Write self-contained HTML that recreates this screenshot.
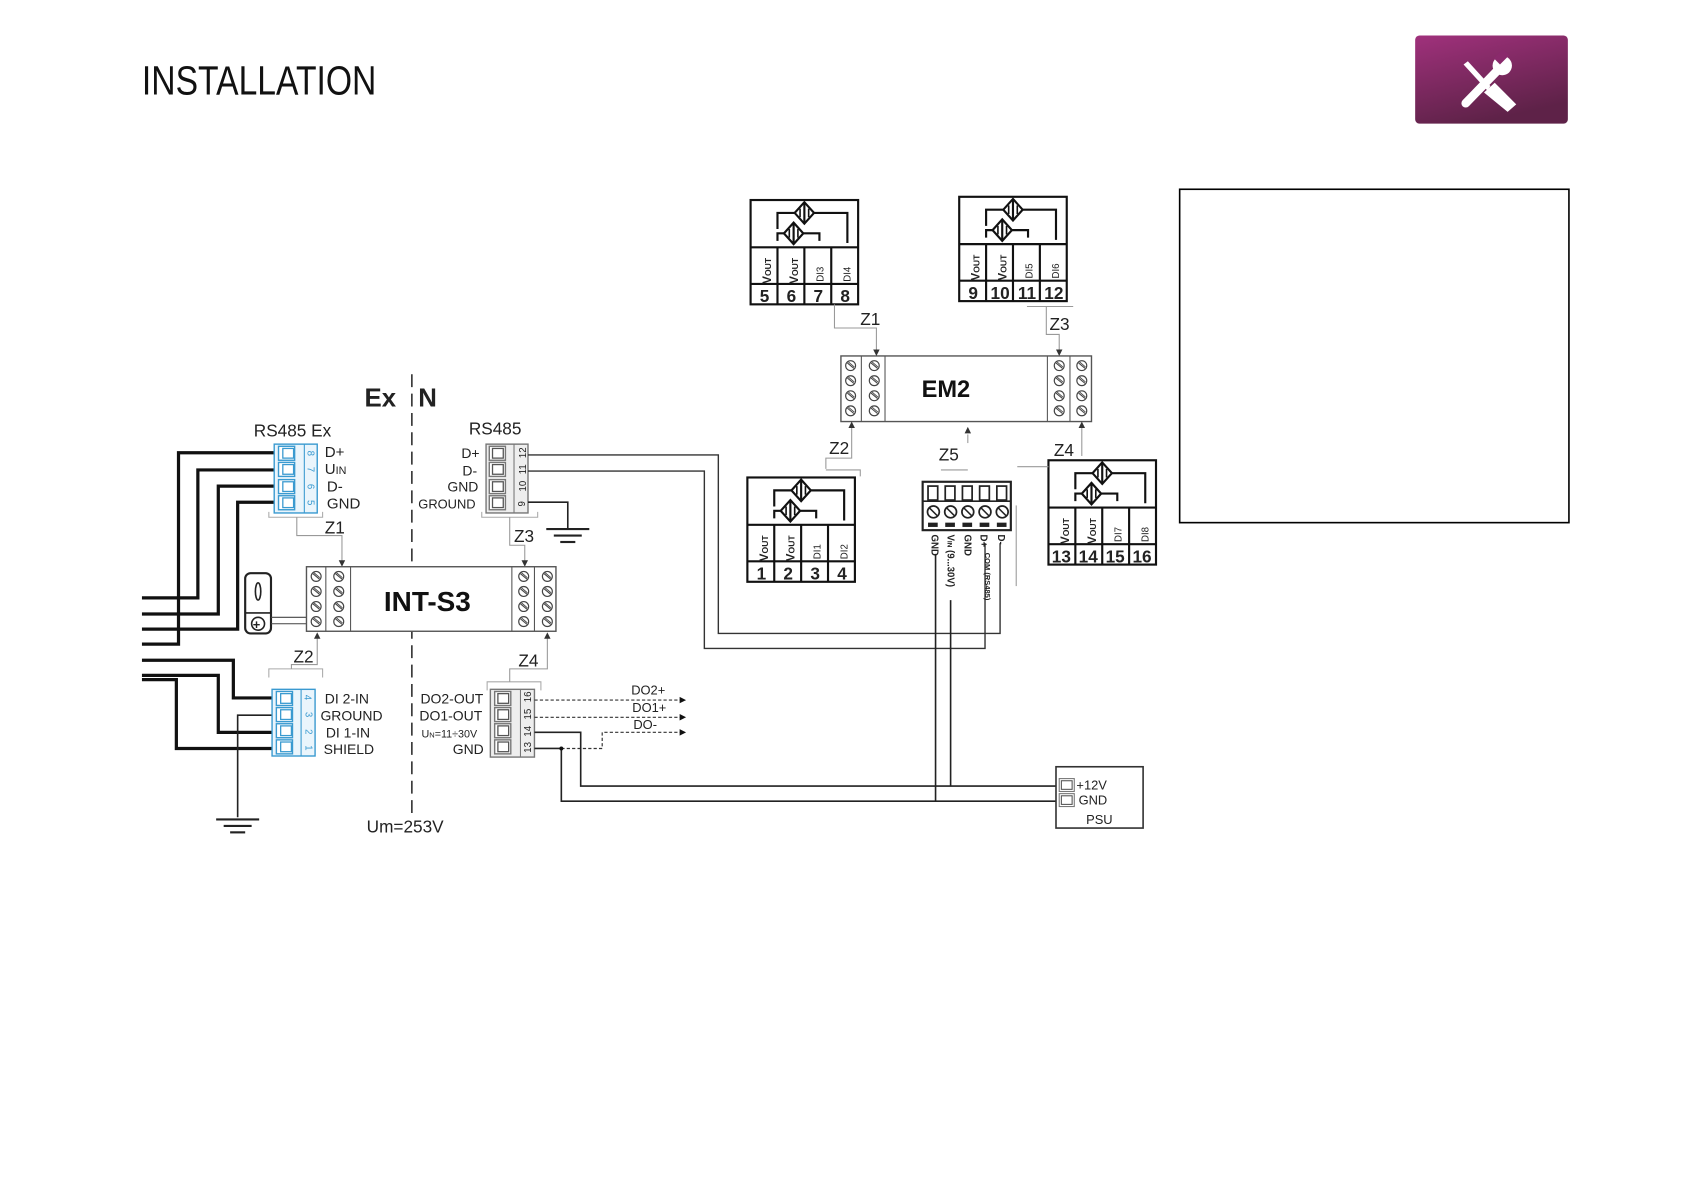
<!DOCTYPE html>
<html><head><meta charset="utf-8"><style>
html,body{margin:0;padding:0;background:#fff;width:1684px;height:1191px;overflow:hidden}
svg{display:block}
text{font-family:"Liberation Sans",sans-serif;fill:#222}
</style></head><body>
<svg width="1684" height="1191" viewBox="0 0 1566 1107.5" preserveAspectRatio="none" xmlns="http://www.w3.org/2000/svg">
<defs>
<linearGradient id="g" x1="0" y1="0" x2="0.4" y2="1"><stop offset="0" stop-color="#a0317c"/><stop offset="1" stop-color="#5e2248"/></linearGradient>
<g id="scr"><circle r="4.6" fill="#fff" stroke="#444" stroke-width="1.1"/><line x1="-3" y1="-2.5" x2="3" y2="2.5" stroke="#444" stroke-width="1"/><line x1="-2" y1="-3.4" x2="3.4" y2="1.2" stroke="#444" stroke-width=".8"/></g>
<g id="col4"><use href="#scr" y="0"/><use href="#scr" y="14"/><use href="#scr" y="28"/><use href="#scr" y="42"/></g>
<g id="dia"><polygon points="0,-10 9,0 0,10 -9,0" fill="#fff" stroke="#111" stroke-width="2"/><line x1="0" y1="-10" x2="0" y2="10" stroke="#111" stroke-width="2"/><line x1="-4" y1="-4" x2="-4" y2="4" stroke="#111" stroke-width="1.5"/><line x1="4" y1="-4" x2="4" y2="4" stroke="#111" stroke-width="1.5"/></g>
<g id="sens" fill="none" stroke="#111" stroke-width="2">
<rect x="0" y="0" width="100" height="97"/>
<polyline points="25,27 25,12 90,12 90,40"/>
<polyline points="25,38 25,31 64,31 64,38"/>
<use href="#dia" x="50" y="12"/><use href="#dia" x="40" y="31"/>
<line x1="0" y1="44" x2="100" y2="44"/><line x1="0" y1="78" x2="100" y2="78"/>
<line x1="25" y1="44" x2="25" y2="97"/><line x1="50" y1="44" x2="50" y2="97"/><line x1="75" y1="44" x2="75" y2="97"/>
</g>
<g id="bcell"><rect x="0" y="0" width="15" height="13" fill="#fff" stroke="#3a9ad0" stroke-width="1.3"/><rect x="4" y="2" width="10" height="9" fill="#fff" stroke="#3a9ad0" stroke-width="1.2"/></g>
<g id="gcell"><rect x="0" y="0" width="15" height="13" fill="#fff" stroke="#777" stroke-width="1.3"/><rect x="3" y="2" width="10" height="9" fill="#fff" stroke="#555" stroke-width="1.2"/></g>
<g id="gnd" stroke="#222" stroke-width="2"><line x1="-20" y1="0" x2="20" y2="0"/><line x1="-13" y1="6" x2="13" y2="6"/><line x1="-7" y1="12" x2="7" y2="12"/></g>
</defs>

<!-- title -->
<text x="132" y="88" font-size="38" textLength="218" lengthAdjust="spacingAndGlyphs" style="fill:#111">INSTALLATION</text>
<rect x="1316" y="33" width="142" height="82" rx="4" fill="url(#g)"/>
<g fill="#fff">
<polygon points="1361,60 1365,57 1386,80 1383,84"/>
<polygon points="1380,86 1390,77 1410,97 1402,104"/>
<line x1="1363" y1="96" x2="1394" y2="64" stroke="#fff" stroke-width="8" stroke-linecap="round"/>
<circle cx="1397" cy="61" r="9"/>
</g>
<rect x="1391" y="48" width="8" height="12" fill="#8a2a6c" transform="rotate(45 1397 55)"/>
<rect x="1097" y="176" width="362" height="310" fill="none" stroke="#000" stroke-width="1.5"/>

<!-- Ex/N divider -->
<line x1="383" y1="348" x2="383" y2="757" stroke="#333" stroke-width="1.5" stroke-dasharray="12,6"/>
<text x="339" y="378" font-size="24" font-weight="bold" style="fill:#222">Ex</text>
<text x="389" y="378" font-size="24" font-weight="bold" style="fill:#222">N</text>
<text x="341" y="774" font-size="16">Um=253V</text>

<!-- thick wires left -->
<g fill="none" stroke="#111" stroke-width="3">
<polyline points="258,421 166,421 166,599 132,599"/>
<polyline points="258,437 184,437 184,556 132,556"/>
<polyline points="258,452 203,452 203,571 132,571"/>
<polyline points="258,467 221,467 221,585 132,585"/>
<polyline points="256,649 217,649 217,614 132,614"/>
<polyline points="256,681 203,681 203,628 132,628"/>
<polyline points="256,696 164,696 164,632 132,632"/>
</g>
<polyline points="256,665 221,665 221,760" fill="none" stroke="#222" stroke-width="1.5"/>
<use href="#gnd" x="221" y="762"/>

<!-- RS485 Ex block -->
<text x="236" y="406" font-size="16">RS485 Ex</text>
<rect x="255" y="413" width="40" height="64" fill="#eaf5fc" stroke="#3a9ad0" stroke-width="1.3"/>
<line x1="283" y1="413" x2="283" y2="477" stroke="#3a9ad0"/>
<use href="#bcell" x="259" y="415"/><use href="#bcell" x="259" y="430"/><use href="#bcell" x="259" y="446"/><use href="#bcell" x="259" y="461"/>
<g font-size="9" style="fill:#3a9ad0"><text x="286" y="425" transform="rotate(90 289 422)" style="fill:#3a9ad0">8</text><text x="286" y="440" transform="rotate(90 289 437)" style="fill:#3a9ad0">7</text><text x="286" y="456" transform="rotate(90 289 453)" style="fill:#3a9ad0">6</text><text x="286" y="471" transform="rotate(90 289 468)" style="fill:#3a9ad0">5</text></g>
<g font-size="14"><text x="302" y="425">D+</text><text x="302" y="441">U<tspan font-size="10">IN</tspan></text><text x="304" y="457">D-</text><text x="304" y="473">GND</text></g>
<polyline points="250,476 250,481 300,481 300,476" fill="none" stroke="#aaa"/>
<polyline points="276,481 276,498 318,498 318,522" fill="none" stroke="#999"/>
<polygon points="315,521 321,521 318,527" fill="#333"/>
<text x="302" y="496" font-size="16">Z1</text>

<!-- RS485 block -->
<text x="436" y="404" font-size="16">RS485</text>
<rect x="452" y="413" width="39" height="64" fill="#eee" stroke="#777" stroke-width="1.3"/>
<line x1="478" y1="413" x2="478" y2="477" stroke="#777"/>
<use href="#gcell" x="455" y="415"/><use href="#gcell" x="455" y="430"/><use href="#gcell" x="455" y="446"/><use href="#gcell" x="455" y="461"/>
<g font-size="9"><text x="481" y="426" transform="rotate(-90 485 422)">12</text><text x="481" y="441" transform="rotate(-90 485 437)">11</text><text x="481" y="457" transform="rotate(-90 485 453)">10</text><text x="482" y="471" transform="rotate(-90 485 468)">9</text></g>
<g font-size="13"><text x="429" y="426">D+</text><text x="430" y="442">D-</text><text x="416" y="457">GND</text><text x="389" y="473" font-size="12">GROUND</text></g>
<polyline points="491,467 528,467 528,492" fill="none" stroke="#222" stroke-width="1.5"/>
<use href="#gnd" x="528" y="492"/>
<polyline points="448,476 448,481 500,481 500,476" fill="none" stroke="#aaa"/>
<polyline points="474,481 474,507 488,507 488,522" fill="none" stroke="#999"/>
<polygon points="485,521 491,521 488,527" fill="#333"/>
<text x="478" y="504" font-size="16">Z3</text>

<!-- RS485 wires to Z5 -->
<polyline points="491,423 668,423 668,589 930,589 930,505" fill="none" stroke="#333" stroke-width="1.3"/>
<polyline points="491,438 655,438 655,603 916,603 916,505" fill="none" stroke="#333" stroke-width="1.3"/>

<!-- cable gland -->
<rect x="228" y="533" width="24" height="56" rx="5" fill="#fff" stroke="#222" stroke-width="2"/>
<ellipse cx="240" cy="550" rx="2.5" ry="8" fill="none" stroke="#222" stroke-width="1.5"/>
<line x1="228" y1="570" x2="252" y2="570" stroke="#222" stroke-width="1.5"/>
<circle cx="240" cy="580" r="6" fill="none" stroke="#222" stroke-width="1.5"/>
<text x="235" y="585" font-size="12" font-weight="bold" style="fill:#222">+</text>
<line x1="252" y1="574" x2="285" y2="574" stroke="#444"/><line x1="252" y1="580" x2="285" y2="580" stroke="#444"/>

<!-- INT-S3 -->
<rect x="285" y="527" width="232" height="60" fill="#fff" stroke="#555" stroke-width="1.3"/>
<line x1="303" y1="527" x2="303" y2="587" stroke="#555"/><line x1="326" y1="527" x2="326" y2="587" stroke="#555"/>
<line x1="476" y1="527" x2="476" y2="587" stroke="#555"/><line x1="497" y1="527" x2="497" y2="587" stroke="#555"/>
<use href="#col4" x="294" y="536"/><use href="#col4" x="315" y="536"/><use href="#col4" x="487" y="536"/><use href="#col4" x="509" y="536"/>
<text x="357" y="568" font-size="26" font-weight="bold" style="fill:#111">INT-S3</text>

<!-- Z2 / Z4 arrows -->
<polyline points="250,630 250,622 300,622 300,630" fill="none" stroke="#aaa"/>
<polyline points="271,622 271,618 295,618 295,593" fill="none" stroke="#999"/>
<polygon points="292,594 298,594 295,588" fill="#333"/>
<text x="273" y="616" font-size="16">Z2</text>
<polyline points="453,642 453,634 503,634 503,642" fill="none" stroke="#aaa"/>
<polyline points="474,634 474,622 509,622 509,593" fill="none" stroke="#999"/>
<polygon points="506,594 512,594 509,588" fill="#333"/>
<text x="482" y="620" font-size="16">Z4</text>

<!-- DI block -->
<rect x="253" y="641" width="40" height="62" fill="#eaf5fc" stroke="#3a9ad0" stroke-width="1.3"/>
<line x1="280" y1="641" x2="280" y2="703" stroke="#3a9ad0"/>
<use href="#bcell" x="257" y="643"/><use href="#bcell" x="257" y="658"/><use href="#bcell" x="257" y="673"/><use href="#bcell" x="257" y="688"/>
<g font-size="9"><text x="284" y="653" transform="rotate(90 287 649)" style="fill:#3a9ad0">4</text><text x="284" y="668" transform="rotate(90 287 665)" style="fill:#3a9ad0">3</text><text x="284" y="684" transform="rotate(90 287 681)" style="fill:#3a9ad0">2</text><text x="284" y="699" transform="rotate(90 287 696)" style="fill:#3a9ad0">1</text></g>
<g font-size="13"><text x="302" y="654">DI 2-IN</text><text x="298" y="670">GROUND</text><text x="303" y="686">DI 1-IN</text><text x="301" y="701">SHIELD</text></g>

<!-- DO block -->
<rect x="456" y="641" width="41" height="63" fill="#eee" stroke="#777" stroke-width="1.3"/>
<line x1="484" y1="641" x2="484" y2="704" stroke="#777"/>
<use href="#gcell" x="460" y="643"/><use href="#gcell" x="460" y="658"/><use href="#gcell" x="460" y="673"/><use href="#gcell" x="460" y="688"/>
<g font-size="9"><text x="486" y="653" transform="rotate(-90 490 649)">16</text><text x="486" y="669" transform="rotate(-90 490 665)">15</text><text x="486" y="685" transform="rotate(-90 490 681)">14</text><text x="486" y="700" transform="rotate(-90 490 696)">13</text></g>
<g font-size="13"><text x="391" y="654">DO2-OUT</text><text x="390" y="670">DO1-OUT</text><text x="392" y="686" font-size="10">U<tspan font-size="7">N</tspan>=11÷30V</text><text x="421" y="701">GND</text></g>
<g fill="none" stroke="#333" stroke-width="1.1" stroke-dasharray="3,2">
<line x1="497" y1="651" x2="634" y2="651"/><line x1="497" y1="667" x2="634" y2="667"/>
<polyline points="522,696 560,696 560,681 634,681"/>
</g>
<g fill="#111"><polygon points="632,648 638,651 632,654"/><polygon points="632,664 638,667 632,670"/><polygon points="632,678 638,681 632,684"/></g>
<g font-size="12"><text x="587" y="646">DO2+</text><text x="588" y="662">DO1+</text><text x="589" y="678">DO-</text></g>
<g fill="none" stroke="#222" stroke-width="1.5">
<polyline points="497,681 540,681 540,731 985,731"/>
<polyline points="497,696 522,696 522,745 985,745"/>
<line x1="870" y1="515" x2="870" y2="745"/>
<line x1="884" y1="558" x2="884" y2="731"/>
</g>
<circle cx="522" cy="696" r="1.8" fill="#111"/>

<!-- PSU -->
<rect x="982" y="713" width="81" height="57" fill="#fff" stroke="#333" stroke-width="1.5"/>
<rect x="985" y="724" width="14" height="12" fill="#fff" stroke="#777"/><rect x="987" y="726" width="10" height="8" fill="#fff" stroke="#555"/>
<rect x="985" y="738" width="14" height="12" fill="#fff" stroke="#777"/><rect x="987" y="740" width="10" height="8" fill="#fff" stroke="#555"/>
<g font-size="12"><text x="1001" y="734">+12V</text><text x="1003" y="748">GND</text><text x="1010" y="766">PSU</text></g>

<!-- Sensors -->
<use href="#sens" x="698" y="186"/>
<use href="#sens" x="892" y="183"/>
<use href="#sens" x="695" y="444"/>
<use href="#sens" x="975" y="428"/>
<g font-weight="bold">
<g font-size="11">
<text transform="translate(717,264) rotate(-90)">V<tspan font-size="8">OUT</tspan></text>
<text transform="translate(742,264) rotate(-90)">V<tspan font-size="8">OUT</tspan></text>
<text transform="translate(766,262) rotate(-90)" font-size="9" font-weight="normal">DI3</text>
<text transform="translate(791,262) rotate(-90)" font-size="9" font-weight="normal">DI4</text>
<text transform="translate(911,261) rotate(-90)">V<tspan font-size="8">OUT</tspan></text>
<text transform="translate(936,261) rotate(-90)">V<tspan font-size="8">OUT</tspan></text>
<text transform="translate(960,259) rotate(-90)" font-size="9" font-weight="normal">DI5</text>
<text transform="translate(985,259) rotate(-90)" font-size="9" font-weight="normal">DI6</text>
<text transform="translate(714,522) rotate(-90)">V<tspan font-size="8">OUT</tspan></text>
<text transform="translate(739,522) rotate(-90)">V<tspan font-size="8">OUT</tspan></text>
<text transform="translate(763,520) rotate(-90)" font-size="9" font-weight="normal">DI1</text>
<text transform="translate(788,520) rotate(-90)" font-size="9" font-weight="normal">DI2</text>
<text transform="translate(994,506) rotate(-90)">V<tspan font-size="8">OUT</tspan></text>
<text transform="translate(1019,506) rotate(-90)">V<tspan font-size="8">OUT</tspan></text>
<text transform="translate(1043,504) rotate(-90)" font-size="9" font-weight="normal">DI7</text>
<text transform="translate(1068,504) rotate(-90)" font-size="9" font-weight="normal">DI8</text>
</g>
<g font-size="16" text-anchor="middle" style="fill:#111">
<text x="711" y="281">5</text><text x="736" y="281">6</text><text x="761" y="281">7</text><text x="786" y="281">8</text>
<text x="905" y="278">9</text><text x="930" y="278">10</text><text x="955" y="278">11</text><text x="980" y="278">12</text>
<text x="708" y="539">1</text><text x="733" y="539">2</text><text x="758" y="539">3</text><text x="783" y="539">4</text>
<text x="987" y="523">13</text><text x="1012" y="523">14</text><text x="1037" y="523">15</text><text x="1062" y="523">16</text>
</g>
</g>

<!-- EM2 -->
<rect x="782" y="331" width="233" height="61" fill="#fff" stroke="#555" stroke-width="1.3"/>
<line x1="801" y1="331" x2="801" y2="392" stroke="#555"/><line x1="823" y1="331" x2="823" y2="392" stroke="#555"/>
<line x1="974" y1="331" x2="974" y2="392" stroke="#555"/><line x1="995" y1="331" x2="995" y2="392" stroke="#555"/>
<use href="#col4" x="791" y="340"/><use href="#col4" x="813" y="340"/><use href="#col4" x="985" y="340"/><use href="#col4" x="1006" y="340"/>
<text x="857" y="369" font-size="22" font-weight="bold" style="fill:#111">EM2</text>

<g fill="none" stroke="#999">
<polyline points="776,283 776,305 815,305 815,325"/>
<polyline points="955,285 998,285"/><polyline points="973,285 973,311 985,311 985,325"/>
<polyline points="792,398 792,426 768,426 768,436"/><polyline points="768,437 800,437 800,443"/>
<polyline points="900,404 900,412"/><polyline points="875,437 900,437"/>
<polyline points="1006,398 1006,424"/><polyline points="946,434 975,434"/>
<line x1="945" y1="470" x2="945" y2="545"/>
</g>
<g fill="#333">
<polygon points="812,325 818,325 815,331"/><polygon points="982,325 988,325 985,331"/>
<polygon points="789,398 795,398 792,392"/><polygon points="897,403 903,403 900,397"/><polygon points="1003,398 1009,398 1006,392"/>
</g>
<g font-size="16"><text x="800" y="302">Z1</text><text x="976" y="307">Z3</text><text x="771" y="422">Z2</text><text x="873" y="428">Z5</text><text x="980" y="424">Z4</text></g>

<!-- Z5 connector -->
<rect x="858" y="448" width="82" height="45" fill="#fff" stroke="#222" stroke-width="2"/>
<g fill="#fff" stroke="#222" stroke-width="1.6">
<rect x="863" y="452" width="9" height="13"/><rect x="879" y="452" width="9" height="13"/><rect x="895" y="452" width="9" height="13"/><rect x="911" y="452" width="9" height="13"/><rect x="927" y="452" width="9" height="13"/>
</g>
<line x1="858" y1="466" x2="940" y2="466" stroke="#222" stroke-width="1.5"/>
<g stroke="#222" stroke-width="1.6" fill="#fff">
<circle cx="868" cy="476" r="5.5"/><circle cx="884" cy="476" r="5.5"/><circle cx="900" cy="476" r="5.5"/><circle cx="916" cy="476" r="5.5"/><circle cx="932" cy="476" r="5.5"/>
</g>
<g stroke="#222" stroke-width="1.4"><line x1="864" y1="472" x2="872" y2="480"/><line x1="880" y1="472" x2="888" y2="480"/><line x1="896" y1="472" x2="904" y2="480"/><line x1="912" y1="472" x2="920" y2="480"/><line x1="928" y1="472" x2="936" y2="480"/></g>
<g fill="#222"><rect x="863" y="486" width="9" height="4"/><rect x="879" y="486" width="9" height="4"/><rect x="895" y="486" width="9" height="4"/><rect x="911" y="486" width="9" height="4"/><rect x="927" y="486" width="9" height="4"/></g>
<g font-size="9" font-weight="bold">
<text transform="translate(866,497) rotate(90)">GND</text>
<text transform="translate(881,497) rotate(90)">V<tspan font-size="6">IN</tspan> (9...30V)</text>
<text transform="translate(897,497) rotate(90)">GND</text>
<text transform="translate(912,497) rotate(90)">D+</text>
<text transform="translate(928,497) rotate(90)">D-</text>
<text transform="translate(916,514) rotate(90)" font-size="7">COM (RS485)</text>
</g>
</svg>
</body></html>
